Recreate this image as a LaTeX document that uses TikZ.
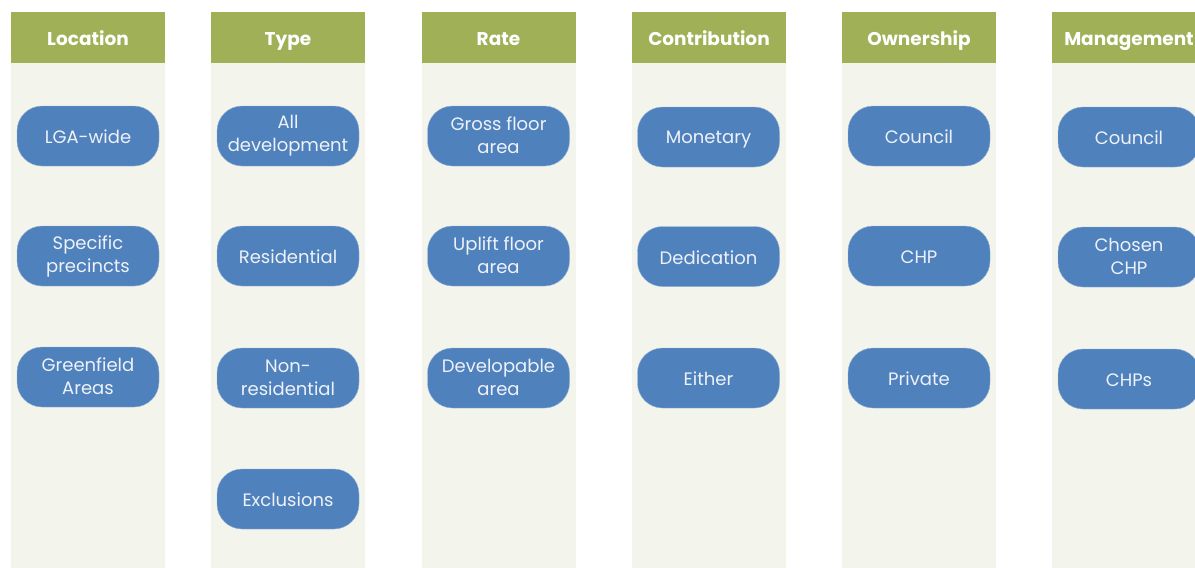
\documentclass[tikz,border=0pt]{standalone}
\usepackage{fontspec}
\setmainfont{Poppins}
\definecolor{headgreen}{HTML}{9FB056}
\definecolor{colbg}{HTML}{F3F5EC}
\definecolor{pillblue}{HTML}{4F81BD}
\definecolor{pilltext}{HTML}{EEF2F8}
\begin{document}
\begin{tikzpicture}[x=1pt, y=-1pt,
            header/.style={rectangle, fill=headgreen, minimum width=154pt, minimum height=51pt, inner sep=0pt, text=white, text height=17pt, text depth=1pt, font=\fontsize{18.5}{22}\selectfont\bfseries},
            column/.style={rectangle, fill=colbg, minimum width=154pt, minimum height=505pt, inner sep=0pt, anchor=north},
            pill/.style={rectangle, rounded corners=25pt, fill=pillblue, draw=pillblue!60!white, thin, minimum width=142pt, minimum height=60pt, inner sep=0pt, text=pilltext, align=center, font=\fontsize{18}{23}\selectfont, execute at begin node=\rule{0pt}{17pt}, execute at end node=\rule[-1.5pt]{0pt}{1.5pt}}
        ]
        \useasboundingbox (0,0) rectangle (1195,568);
        \clip (0,0) rectangle (1195,568);
        \fill[white] (0,0) rectangle (1195,568);

        % Columns
        \node[column] (locbg) at (88, 63) {};
        \node[column] (typebg) at (288, 63) {};
        \node[column] (ratebg) at (498.5, 63) {};
        \node[column] (contbg) at (709, 63) {};
        \node[column] (ownbg) at (919, 63) {};
        \node[column] (mgmtbg) at (1129, 63) {};

        % Headers
        \node[header] (loc) at (88, 37.5) {Location};
        \node[header] (type) at (288, 37.5) {Type};
        \node[header] (rate) at (498.5, 37.5) {Rate};
        \node[header] (cont) at (709, 37.5) {Contribution};
        \node[header] (own) at (919, 37.5) {Ownership};
        \node[header] (mgmt) at (1129, 37.5) {Management};

        % Location
        \node[pill] (loc1) at (88, 136) {LGA-wide};
        \node[pill] (loc2) at (88, 256) {Specific\\precincts};
        \node[pill] (loc3) at (88, 377) {Greenfield\\Areas};

        % Type
        \node[pill] (type1) at (288, 136) {All\\development};
        \node[pill] (type2) at (288, 256) {Residential};
        \node[pill] (type3) at (288, 378) {Non-\\residential};
        \node[pill] (type4) at (288, 499) {Exclusions};

        % Rate
        \node[pill] (rate1) at (498.5, 136) {Gross floor\\area};
        \node[pill] (rate2) at (498.5, 256) {Uplift floor\\area};
        \node[pill] (rate3) at (498.5, 378) {Developable\\area};

        % Contribution
        \node[pill] (cont1) at (708.5, 137) {Monetary};
        \node[pill] (cont2) at (708.5, 256.5) {Dedication};
        \node[pill] (cont3) at (708.5, 378) {Either};

        % Ownership
        \node[pill] (own1) at (919, 136) {Council};
        \node[pill] (own2) at (919, 256) {CHP};
        \node[pill] (own3) at (919, 378) {Private};

        % Management
        \node[pill] (mgmt1) at (1129, 137) {Council};
        \node[pill] (mgmt2) at (1129, 257) {Chosen\\CHP};
        \node[pill] (mgmt3) at (1129, 379) {CHPs};

    \end{tikzpicture}
\end{document}
